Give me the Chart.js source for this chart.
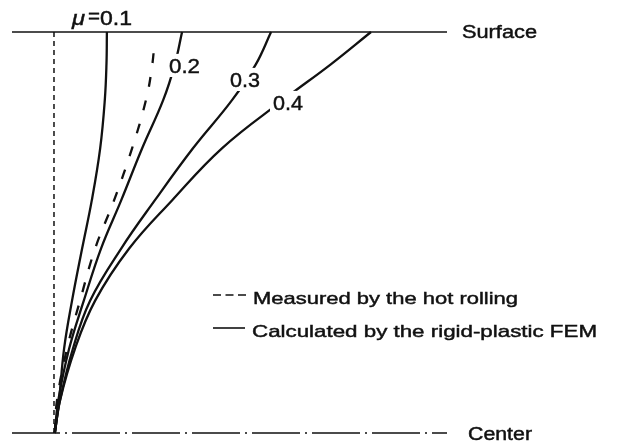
<!DOCTYPE html>
<html>
<head>
<meta charset="utf-8">
<script src="https://cdn.jsdelivr.net/npm/chart.js@4"></script>
<style>
  html, body { margin: 0; padding: 0; background: #fff; }
  #wrap { width: 618px; height: 443px; }
</style>
</head>
<body>
<div id="wrap"><canvas id="c" width="618" height="443"></canvas></div>
<script>
// ── data (x: lateral displacement, y: 0 = center, 1 = surface) ──
const heights = [0, 0.08, 0.21, 0.33, 0.46, 0.58, 0.71, 0.83, 0.92, 1.0];
const mu01 = [0.02, 0.12, 0.24, 0.43, 0.67, 0.90, 1.10, 1.21, 1.25, 1.26];
const mu02 = [0.02, 0.10, 0.36, 0.71, 1.12, 1.60, 2.10, 2.60, 2.88, 3.05];
const mu03 = [0.02, 0.14, 0.45, 0.86, 1.60, 2.40, 3.31, 4.24, 4.81, 5.17];
const mu04 = [0.02, 0.14, 0.50, 0.98, 1.79, 2.81, 4.00, 5.45, 6.60, 7.55];
const measuredHeights = [0, 0.08, 0.21, 0.33, 0.46, 0.58, 0.71, 0.83, 0.91, 0.98];
const measured = [0.02, 0.07, 0.31, 0.62, 0.98, 1.43, 1.86, 2.19, 2.33, 2.40];
const xRange = [-1, 9.36];

const INK = '#111';
const FONT = '"Liberation Sans", Arial, Helvetica, sans-serif';

function pts(xs, ys) { return xs.map((x, i) => ({ x, y: ys[i] })); }

function curve(xs, ys, dash) {
  return {
    data: pts(xs, ys), borderColor: INK, borderWidth: 2.3, borderDash: dash || [],
    pointRadius: 0, tension: 0.4, clip: false
  };
}

function rule(data, width, dash) {
  return { data, borderColor: INK, borderWidth: width, borderDash: dash, pointRadius: 0, clip: false };
}

// ── text drawn onto the chart ──
function fitText(ctx, text, x, base, width, size, italic) {
  ctx.font = `${italic ? 'italic ' : ''}${size}px ${FONT}`;
  const w = ctx.measureText(text).width;
  ctx.save();
  ctx.translate(x, base);
  ctx.scale(width / w, 1);
  ctx.fillText(text, 0, 0);
  ctx.lineWidth = 0.45;
  ctx.strokeText(text, 0, 0);
  ctx.restore();
}

function labelBox(ctx, text, x, base, width, size) {
  ctx.fillStyle = '#fff';
  ctx.fillRect(x - 3, base - size * 0.72 - 4, width + 6, size * 0.72 + 8);
  ctx.fillStyle = INK;
  fitText(ctx, text, x, base, width, size);
}

const annotations = {
  id: 'annotations',
  afterDatasetsDraw(chart) {
    const ctx = chart.ctx;
    ctx.save();
    ctx.fillStyle = INK;
    ctx.strokeStyle = INK;
    ctx.textBaseline = 'alphabetic';

    // curve labels
    fitText(ctx, 'μ', 72, 25, 13, 20, true);
    fitText(ctx, '=', 88, 23, 12, 20);
    fitText(ctx, '0.1', 100, 25, 32, 21);
    labelBox(ctx, '0.2', 169, 73, 31, 21);
    labelBox(ctx, '0.3', 230, 87, 30, 21);
    labelBox(ctx, '0.4', 273, 110, 30, 21);

    // side labels
    fitText(ctx, 'Surface', 462, 38, 75, 18);
    fitText(ctx, 'Center', 468, 440, 64, 18);

    // legend
    ctx.lineWidth = 1.6;
    ctx.setLineDash([8, 4.5]);
    ctx.beginPath(); ctx.moveTo(213, 295); ctx.lineTo(250, 295); ctx.stroke();
    ctx.setLineDash([]);
    ctx.beginPath(); ctx.moveTo(213, 328); ctx.lineTo(245, 328); ctx.stroke();
    fitText(ctx, 'Measured by the hot rolling', 253, 304, 265, 17);
    fitText(ctx, 'Calculated by the rigid-plastic FEM', 252, 337, 345, 17);
    ctx.restore();
  }
};

// ── chart ──
new Chart(document.getElementById('c').getContext('2d'), {
  type: 'line',
  data: {
    datasets: [
      rule([{ x: 0, y: 0 }, { x: 0, y: 1 }], 1.5, [5, 4]),
      rule([{ x: xRange[0], y: 1 }, { x: xRange[1], y: 1 }], 1.5, []),
      rule([{ x: xRange[0], y: 0 }, { x: xRange[1], y: 0 }], 1.5, [48, 5, 2, 5]),
      curve(mu01, heights),
      curve(mu02, heights),
      curve(mu03, heights),
      curve(mu04, heights),
      curve(measured, measuredHeights, [10, 14])
    ]
  },
  options: {
    responsive: false,
    animation: false,
    layout: { padding: { left: 12, top: 32, right: 171, bottom: 10 } },
    plugins: { legend: { display: false }, tooltip: { enabled: false } },
    scales: {
      x: { type: 'linear', min: xRange[0], max: xRange[1], display: false },
      y: { type: 'linear', min: 0, max: 1, display: false }
    }
  },
  plugins: [annotations]
});
</script>
</body>
</html>
